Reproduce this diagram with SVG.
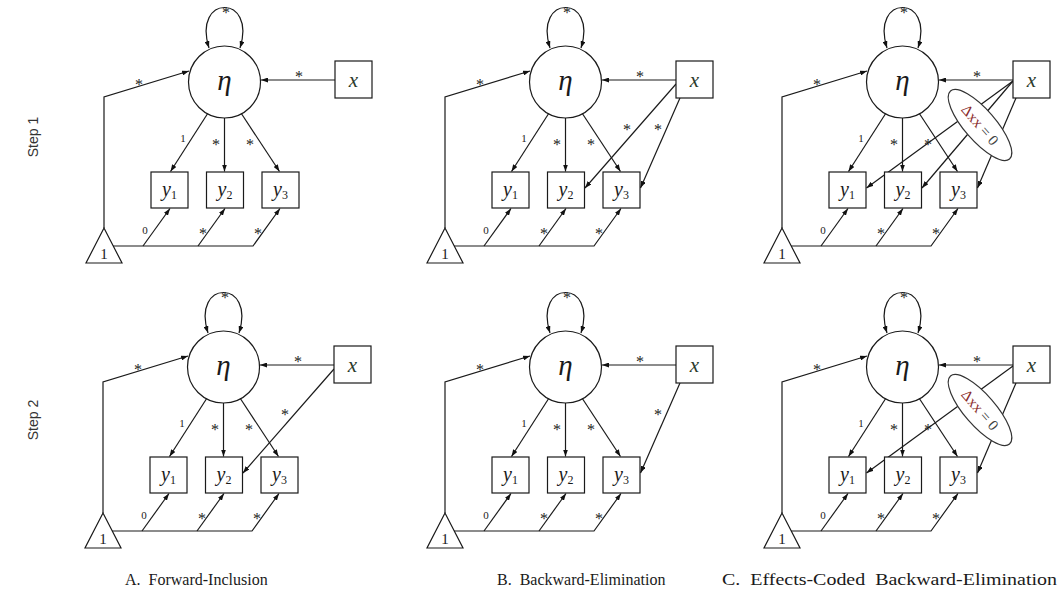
<svg xmlns="http://www.w3.org/2000/svg" width="1061" height="605" viewBox="0 0 1061 605">
<defs>
<marker id="ah" viewBox="0 0 7 5" refX="7" refY="2.5" markerWidth="7" markerHeight="5" orient="auto-start-reverse" markerUnits="userSpaceOnUse">
<path d="M0,0 L7,2.5 L0,5 z" fill="#111"/>
</marker>
</defs>
<style>
.ln{fill:none;stroke:#1a1a1a;stroke-width:1.2}
.ar{marker-end:url(#ah)}
.lp{marker-start:url(#ah);marker-end:url(#ah)}
.nd{fill:#fff;stroke:#1a1a1a;stroke-width:1.2}
.st{font-family:"Liberation Serif",serif;font-size:16px;fill:#222;text-anchor:middle}
.nm{font-family:"Liberation Serif",serif;font-size:11px;fill:#222;text-anchor:middle}
.eta{font-family:"Liberation Serif",serif;font-style:italic;font-size:29px;fill:#1a1a1a;text-anchor:middle}
.xv{font-family:"Liberation Serif",serif;font-style:italic;font-size:21px;fill:#2c3a2c;text-anchor:middle}
.yv{font-family:"Liberation Serif",serif;font-style:italic;font-size:20px;fill:#1a1a1a;text-anchor:middle}
.sub{font-style:normal;font-size:12px}
.one{font-family:"Liberation Serif",serif;font-size:15px;fill:#1a1a1a;text-anchor:middle}
.el{fill:#fff;stroke:#333;stroke-width:1.2}
.et{font-family:"Liberation Serif",serif;font-size:15px;fill:#444;text-anchor:middle}
.dx{fill:#8a2c2c}
.row{font-family:"Liberation Sans",sans-serif;font-size:14px;fill:#333;text-anchor:middle}
.cap{font-family:"Liberation Serif",serif;font-size:16px;fill:#1a1a1a}
</style>

<!-- Panel A, Step 1 -->
<g id="panelA1">
<g id="A1-connectors">
<path class="ln lp" d="M209,48 C192,-6 257,-6 240,48"/>
<polyline class="ln ar" points="104,228 104,97 189,71"/>
<line class="ln ar" x1="335" y1="80" x2="261" y2="80"/>
<line class="ln ar" x1="208" y1="113" x2="170.5" y2="171.5"/>
<line class="ln ar" x1="224.5" y1="118" x2="224.5" y2="171.5"/>
<line class="ln ar" x1="241" y1="113" x2="279.5" y2="171.5"/>
<polyline class="ln ar" points="113,246 253,246 280,208.5"/>
<line class="ln ar" x1="143" y1="246" x2="170" y2="208.5"/>
<line class="ln ar" x1="198" y1="246" x2="225" y2="208.5"/>
<text class="st" x="226" y="18">*</text>
<text class="st" x="139" y="90">*</text>
<text class="st" x="299" y="82">*</text>
<text class="nm" x="183" y="142">1</text>
<text class="st" x="216" y="150">*</text>
<text class="st" x="250" y="150">*</text>
<text class="nm" x="145" y="234">0</text>
<text class="st" x="203" y="239">*</text>
<text class="st" x="258" y="239">*</text>
</g>
<g id="A1-eta"><circle class="nd" cx="224.5" cy="82" r="36"/><text class="eta" x="224.5" y="90">η</text></g>
<g id="A1-x"><rect class="nd" x="335" y="61" width="37" height="37"/><text class="xv" x="353.5" y="87">x</text></g>
<g id="A1-y1"><rect class="nd" x="151" y="172" width="37" height="36"/><text class="yv" x="169.5" y="196">y<tspan class="sub" dy="3">1</tspan></text></g>
<g id="A1-y2"><rect class="nd" x="206.5" y="172" width="37" height="36"/><text class="yv" x="225" y="196">y<tspan class="sub" dy="3">2</tspan></text></g>
<g id="A1-y3"><rect class="nd" x="262" y="172" width="37" height="36"/><text class="yv" x="280.5" y="196">y<tspan class="sub" dy="3">3</tspan></text></g>
<g id="A1-one"><polygon class="nd" points="104,228 86,263 122,263"/><text class="one" x="104" y="259">1</text></g>
</g>

<!-- Panel B, Step 1 -->
<g id="panelB1" transform="translate(341,0)">
<g id="B1-connectors">
<path class="ln lp" d="M209,48 C192,-6 257,-6 240,48"/>
<polyline class="ln ar" points="104,228 104,97 189,71"/>
<line class="ln ar" x1="335" y1="80" x2="261" y2="80"/>
<line class="ln ar" x1="208" y1="113" x2="170.5" y2="171.5"/>
<line class="ln ar" x1="224.5" y1="118" x2="224.5" y2="171.5"/>
<line class="ln ar" x1="241" y1="113" x2="279.5" y2="171.5"/>
<line class="ln ar" x1="335" y1="84" x2="244" y2="188"/>
<line class="ln ar" x1="339" y1="98" x2="299.5" y2="188"/>
<polyline class="ln ar" points="113,246 253,246 280,208.5"/>
<line class="ln ar" x1="143" y1="246" x2="170" y2="208.5"/>
<line class="ln ar" x1="198" y1="246" x2="225" y2="208.5"/>
<text class="st" x="226" y="18">*</text>
<text class="st" x="139" y="90">*</text>
<text class="st" x="299" y="82">*</text>
<text class="nm" x="183" y="142">1</text>
<text class="st" x="216" y="150">*</text>
<text class="st" x="250" y="150">*</text>
<text class="st" x="286" y="135">*</text>
<text class="st" x="317" y="135">*</text>
<text class="nm" x="145" y="234">0</text>
<text class="st" x="203" y="239">*</text>
<text class="st" x="258" y="239">*</text>
</g>
<g id="B1-eta"><circle class="nd" cx="224.5" cy="82" r="36"/><text class="eta" x="224.5" y="90">η</text></g>
<g id="B1-x"><rect class="nd" x="335" y="61" width="37" height="37"/><text class="xv" x="353.5" y="87">x</text></g>
<g id="B1-y1"><rect class="nd" x="151" y="172" width="37" height="36"/><text class="yv" x="169.5" y="196">y<tspan class="sub" dy="3">1</tspan></text></g>
<g id="B1-y2"><rect class="nd" x="206.5" y="172" width="37" height="36"/><text class="yv" x="225" y="196">y<tspan class="sub" dy="3">2</tspan></text></g>
<g id="B1-y3"><rect class="nd" x="262" y="172" width="37" height="36"/><text class="yv" x="280.5" y="196">y<tspan class="sub" dy="3">3</tspan></text></g>
<g id="B1-one"><polygon class="nd" points="104,228 86,263 122,263"/><text class="one" x="104" y="259">1</text></g>
</g>

<!-- Panel C, Step 1 -->
<g id="panelC1" transform="translate(678,0)">
<g id="C1-connectors">
<path class="ln lp" d="M209,48 C192,-6 257,-6 240,48"/>
<polyline class="ln ar" points="104,228 104,97 189,71"/>
<line class="ln ar" x1="335" y1="80" x2="261" y2="80"/>
<line class="ln ar" x1="208" y1="113" x2="170.5" y2="171.5"/>
<line class="ln ar" x1="224.5" y1="118" x2="224.5" y2="171.5"/>
<line class="ln ar" x1="241" y1="113" x2="279.5" y2="171.5"/>
<line class="ln ar" x1="335" y1="81" x2="188.5" y2="188"/>
<line class="ln ar" x1="335" y1="81" x2="244" y2="188"/>
<line class="ln ar" x1="338" y1="98" x2="299.5" y2="188"/>
<polyline class="ln ar" points="113,246 253,246 280,208.5"/>
<line class="ln ar" x1="143" y1="246" x2="170" y2="208.5"/>
<line class="ln ar" x1="198" y1="246" x2="225" y2="208.5"/>
<text class="st" x="226" y="18">*</text>
<text class="st" x="139" y="90">*</text>
<text class="st" x="299" y="82">*</text>
<text class="nm" x="183" y="142">1</text>
<text class="st" x="216" y="150">*</text>
<text class="st" x="250" y="150">*</text>
<text class="nm" x="145" y="234">0</text>
<text class="st" x="203" y="239">*</text>
<text class="st" x="258" y="239">*</text>
</g>
<g id="C1-constraint"><ellipse class="el" cx="0" cy="0" rx="45" ry="15.5" transform="translate(302,125) rotate(49)"/><text class="et" transform="translate(302,125) rotate(49)" x="0" y="5"><tspan class="dx">Δxx</tspan> = 0</text></g>
<g id="C1-eta"><circle class="nd" cx="224.5" cy="82" r="36"/><text class="eta" x="224.5" y="90">η</text></g>
<g id="C1-x"><rect class="nd" x="335" y="61" width="37" height="37"/><text class="xv" x="353.5" y="87">x</text></g>
<g id="C1-y1"><rect class="nd" x="151" y="172" width="37" height="36"/><text class="yv" x="169.5" y="196">y<tspan class="sub" dy="3">1</tspan></text></g>
<g id="C1-y2"><rect class="nd" x="206.5" y="172" width="37" height="36"/><text class="yv" x="225" y="196">y<tspan class="sub" dy="3">2</tspan></text></g>
<g id="C1-y3"><rect class="nd" x="262" y="172" width="37" height="36"/><text class="yv" x="280.5" y="196">y<tspan class="sub" dy="3">3</tspan></text></g>
<g id="C1-one"><polygon class="nd" points="104,228 86,263 122,263"/><text class="one" x="104" y="259">1</text></g>
</g>

<!-- Panel A, Step 2 -->
<g id="panelA2" transform="translate(-1,285)">
<g id="A2-connectors">
<path class="ln lp" d="M209,48 C192,-6 257,-6 240,48"/>
<polyline class="ln ar" points="104,228 104,97 189,71"/>
<line class="ln ar" x1="335" y1="80" x2="261" y2="80"/>
<line class="ln ar" x1="208" y1="113" x2="170.5" y2="171.5"/>
<line class="ln ar" x1="224.5" y1="118" x2="224.5" y2="171.5"/>
<line class="ln ar" x1="241" y1="113" x2="279.5" y2="171.5"/>
<line class="ln ar" x1="335" y1="84" x2="244" y2="188"/>
<polyline class="ln ar" points="113,246 253,246 280,208.5"/>
<line class="ln ar" x1="143" y1="246" x2="170" y2="208.5"/>
<line class="ln ar" x1="198" y1="246" x2="225" y2="208.5"/>
<text class="st" x="226" y="18">*</text>
<text class="st" x="139" y="90">*</text>
<text class="st" x="299" y="82">*</text>
<text class="nm" x="183" y="142">1</text>
<text class="st" x="216" y="150">*</text>
<text class="st" x="250" y="150">*</text>
<text class="st" x="286" y="135">*</text>
<text class="nm" x="145" y="234">0</text>
<text class="st" x="203" y="239">*</text>
<text class="st" x="258" y="239">*</text>
</g>
<g id="A2-eta"><circle class="nd" cx="224.5" cy="82" r="36"/><text class="eta" x="224.5" y="90">η</text></g>
<g id="A2-x"><rect class="nd" x="335" y="61" width="37" height="37"/><text class="xv" x="353.5" y="87">x</text></g>
<g id="A2-y1"><rect class="nd" x="151" y="172" width="37" height="36"/><text class="yv" x="169.5" y="196">y<tspan class="sub" dy="3">1</tspan></text></g>
<g id="A2-y2"><rect class="nd" x="206.5" y="172" width="37" height="36"/><text class="yv" x="225" y="196">y<tspan class="sub" dy="3">2</tspan></text></g>
<g id="A2-y3"><rect class="nd" x="262" y="172" width="37" height="36"/><text class="yv" x="280.5" y="196">y<tspan class="sub" dy="3">3</tspan></text></g>
<g id="A2-one"><polygon class="nd" points="104,228 86,263 122,263"/><text class="one" x="104" y="259">1</text></g>
</g>

<!-- Panel B, Step 2 -->
<g id="panelB2" transform="translate(341,285)">
<g id="B2-connectors">
<path class="ln lp" d="M209,48 C192,-6 257,-6 240,48"/>
<polyline class="ln ar" points="104,228 104,97 189,71"/>
<line class="ln ar" x1="335" y1="80" x2="261" y2="80"/>
<line class="ln ar" x1="208" y1="113" x2="170.5" y2="171.5"/>
<line class="ln ar" x1="224.5" y1="118" x2="224.5" y2="171.5"/>
<line class="ln ar" x1="241" y1="113" x2="279.5" y2="171.5"/>
<line class="ln ar" x1="339" y1="98" x2="299.5" y2="188"/>
<polyline class="ln ar" points="113,246 253,246 280,208.5"/>
<line class="ln ar" x1="143" y1="246" x2="170" y2="208.5"/>
<line class="ln ar" x1="198" y1="246" x2="225" y2="208.5"/>
<text class="st" x="226" y="18">*</text>
<text class="st" x="139" y="90">*</text>
<text class="st" x="299" y="82">*</text>
<text class="nm" x="183" y="142">1</text>
<text class="st" x="216" y="150">*</text>
<text class="st" x="250" y="150">*</text>
<text class="st" x="317" y="135">*</text>
<text class="nm" x="145" y="234">0</text>
<text class="st" x="203" y="239">*</text>
<text class="st" x="258" y="239">*</text>
</g>
<g id="B2-eta"><circle class="nd" cx="224.5" cy="82" r="36"/><text class="eta" x="224.5" y="90">η</text></g>
<g id="B2-x"><rect class="nd" x="335" y="61" width="37" height="37"/><text class="xv" x="353.5" y="87">x</text></g>
<g id="B2-y1"><rect class="nd" x="151" y="172" width="37" height="36"/><text class="yv" x="169.5" y="196">y<tspan class="sub" dy="3">1</tspan></text></g>
<g id="B2-y2"><rect class="nd" x="206.5" y="172" width="37" height="36"/><text class="yv" x="225" y="196">y<tspan class="sub" dy="3">2</tspan></text></g>
<g id="B2-y3"><rect class="nd" x="262" y="172" width="37" height="36"/><text class="yv" x="280.5" y="196">y<tspan class="sub" dy="3">3</tspan></text></g>
<g id="B2-one"><polygon class="nd" points="104,228 86,263 122,263"/><text class="one" x="104" y="259">1</text></g>
</g>

<!-- Panel C, Step 2 -->
<g id="panelC2" transform="translate(678,285)">
<g id="C2-connectors">
<path class="ln lp" d="M209,48 C192,-6 257,-6 240,48"/>
<polyline class="ln ar" points="104,228 104,97 189,71"/>
<line class="ln ar" x1="335" y1="80" x2="261" y2="80"/>
<line class="ln ar" x1="208" y1="113" x2="170.5" y2="171.5"/>
<line class="ln ar" x1="224.5" y1="118" x2="224.5" y2="171.5"/>
<line class="ln ar" x1="241" y1="113" x2="279.5" y2="171.5"/>
<line class="ln ar" x1="335" y1="81" x2="188.5" y2="188"/>
<line class="ln ar" x1="338" y1="98" x2="299.5" y2="188"/>
<polyline class="ln ar" points="113,246 253,246 280,208.5"/>
<line class="ln ar" x1="143" y1="246" x2="170" y2="208.5"/>
<line class="ln ar" x1="198" y1="246" x2="225" y2="208.5"/>
<text class="st" x="226" y="18">*</text>
<text class="st" x="139" y="90">*</text>
<text class="st" x="299" y="82">*</text>
<text class="nm" x="183" y="142">1</text>
<text class="st" x="216" y="150">*</text>
<text class="st" x="250" y="150">*</text>
<text class="nm" x="145" y="234">0</text>
<text class="st" x="203" y="239">*</text>
<text class="st" x="258" y="239">*</text>
</g>
<g id="C2-constraint"><ellipse class="el" cx="0" cy="0" rx="45" ry="15.5" transform="translate(302,125) rotate(49)"/><text class="et" transform="translate(302,125) rotate(49)" x="0" y="5"><tspan class="dx">Δxx</tspan> = 0</text></g>
<g id="C2-eta"><circle class="nd" cx="224.5" cy="82" r="36"/><text class="eta" x="224.5" y="90">η</text></g>
<g id="C2-x"><rect class="nd" x="335" y="61" width="37" height="37"/><text class="xv" x="353.5" y="87">x</text></g>
<g id="C2-y1"><rect class="nd" x="151" y="172" width="37" height="36"/><text class="yv" x="169.5" y="196">y<tspan class="sub" dy="3">1</tspan></text></g>
<g id="C2-y2"><rect class="nd" x="206.5" y="172" width="37" height="36"/><text class="yv" x="225" y="196">y<tspan class="sub" dy="3">2</tspan></text></g>
<g id="C2-y3"><rect class="nd" x="262" y="172" width="37" height="36"/><text class="yv" x="280.5" y="196">y<tspan class="sub" dy="3">3</tspan></text></g>
<g id="C2-one"><polygon class="nd" points="104,228 86,263 122,263"/><text class="one" x="104" y="259">1</text></g>
</g>

<!-- Row and column labels -->
<g id="row-labels">
<text class="row" transform="translate(38,137) rotate(-90)">Step 1</text>
<text class="row" transform="translate(38,420) rotate(-90)">Step 2</text>
</g>
<g id="captions">
<text class="cap" x="125" y="585" xml:space="preserve">A.  Forward-Inclusion</text>
<text class="cap" x="497" y="585" xml:space="preserve">B.  Backward-Elimination</text>
<text class="cap" x="722" y="585" textLength="335" lengthAdjust="spacingAndGlyphs" xml:space="preserve">C.  Effects-Coded  Backward-Elimination</text>
</g>
</svg>
